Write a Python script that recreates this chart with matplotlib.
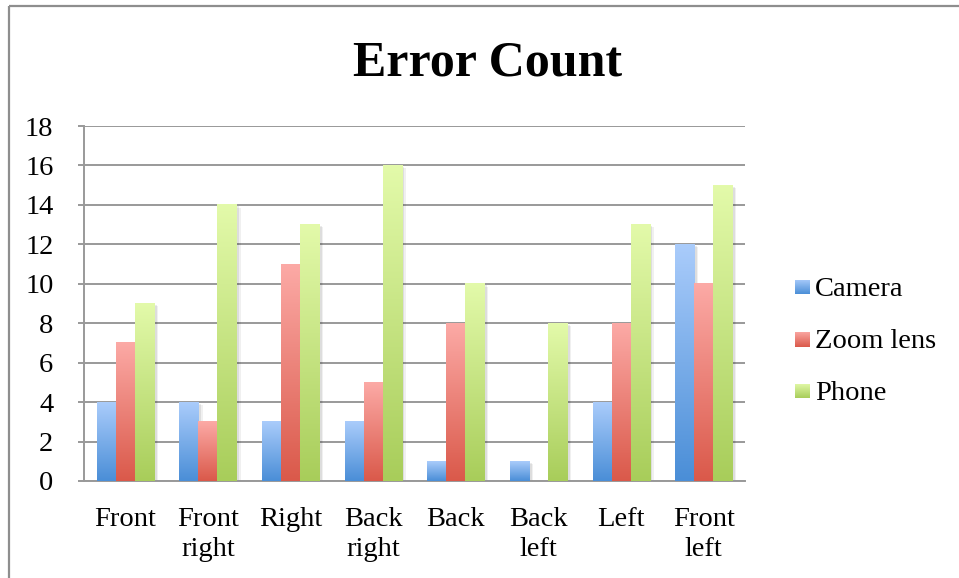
import numpy as np
import matplotlib
matplotlib.use("Agg")
import matplotlib.pyplot as plt
from matplotlib.colors import LinearSegmentedColormap
from matplotlib.lines import Line2D
import matplotlib.patheffects as pe

# Data
categories = ["Front", "Front\nright", "Right", "Back\nright", "Back", "Back\nleft", "Left", "Front\nleft"]
series_names = ["Camera", "Zoom lens", "Phone"]
camera = [4, 4, 3, 3, 1, 1, 4, 12]
zoom_lens = [7, 3, 11, 5, 8, 0, 8, 10]
phone = [9, 14, 13, 16, 10, 8, 13, 15]
y_ticks = list(range(0, 19, 2))

# Gradient endpoints (top, bottom) for each series
gradients = [("#AACCFB", "#4A8ED7"), ("#FCAAA6", "#DA594A"), ("#E3FAAA", "#A8CD5A")]

plt.rcParams["font.family"] = ["Liberation Serif", "DejaVu Serif"]
FS = 20.5

fig = plt.figure(figsize=(9.59, 5.78), dpi=100)
fig.patch.set_facecolor("white")

# Outer chart frame (left and top edges)
frame_col = "#8e8e8e"
fig.add_artist(Line2D([8.5 / 959, 8.5 / 959], [0, 1 - 5.5 / 578], color=frame_col, lw=1.6,
                      transform=fig.transFigure, solid_capstyle="butt"))
fig.add_artist(Line2D([8.5 / 959, 1], [1 - 5.5 / 578, 1 - 5.5 / 578], color=frame_col, lw=1.6,
                      transform=fig.transFigure, solid_capstyle="butt"))

ax = fig.add_axes([84 / 959, 97 / 578, (745 - 84) / 959, (481 - 126) / 578])

x = np.arange(len(categories))
bw = 0.23
grid_col = "#999999"

ax.set_yticks(y_ticks)
ax.yaxis.grid(True, color=grid_col, lw=1.4)
ax.set_axisbelow(True)
for s in ["top", "right"]:
    ax.spines[s].set_visible(False)
for s in ["left", "bottom"]:
    ax.spines[s].set_color(grid_col)
    ax.spines[s].set_linewidth(1.4)
ax.tick_params(axis="y", length=4, width=1.4, color=grid_col, pad=18, labelsize=FS)
ax.tick_params(axis="x", length=0, pad=19, labelsize=FS)
ax.set_xticks(x)
ax.set_xticklabels(categories, linespacing=1.22, va="top")

grad = np.linspace(1, 0, 256).reshape(-1, 1)
shadow = [pe.SimplePatchShadow(offset=(3, -2), shadow_rgbFace="#000000", alpha=0.06),
          pe.SimplePatchShadow(offset=(2, -1), shadow_rgbFace="#000000", alpha=0.08)]

all_series = [camera, zoom_lens, phone]
for i, (vals, (top, bot)) in enumerate(zip(all_series, gradients)):
    cmap = LinearSegmentedColormap.from_list(f"g{i}", [bot, top])
    bars = ax.bar(x + (i - 1) * bw, vals, width=bw, color="white", lw=0, zorder=2)
    for b in bars:
        h = b.get_height()
        if h <= 0:
            continue
        b.set_path_effects(shadow)
        x0 = b.get_x()
        ax.imshow(grad, cmap=cmap, aspect="auto", interpolation="bilinear",
                  extent=(x0, x0 + b.get_width(), 0, h), zorder=3)
ax.set_xlim(-0.5, len(categories) - 0.5)
ax.set_ylim(0, 18)

# Legend with gradient swatches
leg_y = [287, 339, 391]
for name, (top, bot), yc in zip(series_names, gradients, leg_y):
    sax = fig.add_axes([795 / 959, (578 - yc - 7.5) / 578, 15 / 959, 15 / 578])
    sax.imshow(grad, cmap=LinearSegmentedColormap.from_list(name, [bot, top]),
               aspect="auto", interpolation="bilinear", extent=(0, 1, 0, 1))
    sax.set_axis_off()
    fig.text(815 / 959, (578 - yc - 2) / 578, name, fontsize=FS, va="center", ha="left")

fig.text(488 / 959, (578 - 64) / 578, "Error Count", fontsize=36, fontweight="bold",
         ha="center", va="center")

fig.savefig("out.png", dpi=100, facecolor="white")
